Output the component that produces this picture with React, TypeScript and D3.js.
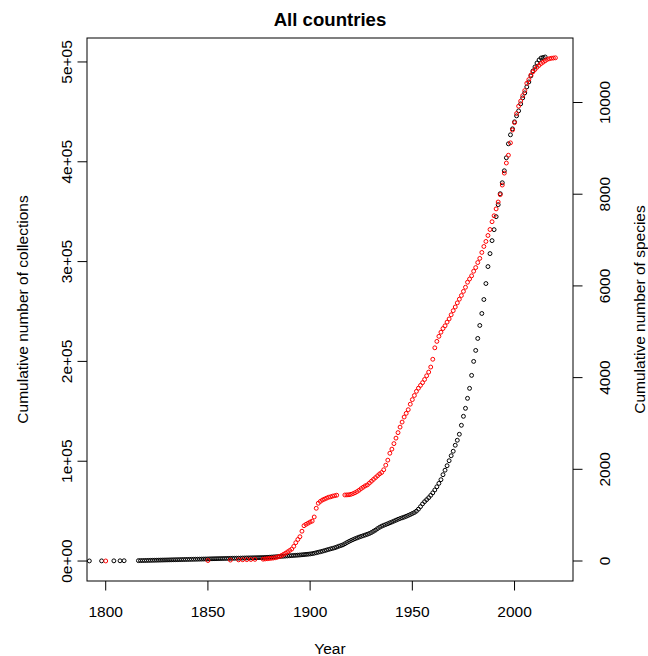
import React from "react";
import * as d3 from "d3";

// Cumulative number of collections (left axis), [year, value]
const collections: [number, number][] = [
  [1792, 100], [1798, 150], [1804, 200], [1807, 250], [1809, 300],
  [1816, 400], [1817, 450], [1818, 500], [1819, 550], [1820, 600],
  [1821, 650], [1822, 700], [1823, 750], [1824, 800], [1825, 850],
  [1826, 900], [1827, 950], [1828, 1000], [1829, 1050], [1830, 1100],
  [1831, 1150], [1832, 1200], [1833, 1250], [1834, 1300], [1835, 1350],
  [1836, 1400], [1837, 1450], [1838, 1500], [1839, 1550], [1840, 1600],
  [1841, 1650], [1842, 1700], [1843, 1750], [1844, 1800], [1845, 1850],
  [1846, 1900], [1847, 1950], [1848, 2000], [1849, 2050], [1850, 2100],
  [1851, 2200], [1852, 2250], [1853, 2300], [1854, 2350], [1855, 2400],
  [1856, 2450], [1857, 2500], [1858, 2550], [1859, 2600], [1860, 2650],
  [1861, 2700], [1862, 2750], [1863, 2800], [1864, 2850], [1865, 2900],
  [1866, 2950], [1867, 3000], [1868, 3050], [1869, 3100], [1870, 3150],
  [1871, 3200], [1872, 3250], [1873, 3300], [1874, 3350], [1875, 3400],
  [1876, 3450], [1877, 3500], [1878, 3600], [1879, 3700], [1880, 3800],
  [1881, 3950], [1882, 4100], [1883, 4250], [1884, 4400], [1885, 4550],
  [1886, 4700], [1887, 4850], [1888, 5000], [1889, 5150], [1890, 5300],
  [1891, 5450], [1892, 5600], [1893, 5750], [1894, 5900], [1895, 6050],
  [1896, 6250], [1897, 6450], [1898, 6650], [1899, 6850], [1900, 7100],
  [1901, 7400], [1902, 7800], [1903, 8300], [1904, 8800], [1905, 9300],
  [1906, 9800], [1907, 10400], [1908, 11000], [1909, 11600], [1910, 12200],
  [1911, 12700], [1912, 13300], [1913, 14000], [1914, 14800], [1915, 15500],
  [1916, 16200], [1917, 17300], [1918, 18500], [1919, 19600], [1920, 20600],
  [1921, 21500], [1922, 22400], [1923, 23200], [1924, 24000], [1925, 24700],
  [1926, 25400], [1927, 26100], [1928, 26800], [1929, 27600], [1930, 28600],
  [1931, 29800], [1932, 31000], [1933, 32500], [1934, 33800], [1935, 34900],
  [1936, 35800], [1937, 36600], [1938, 37400], [1939, 38300], [1940, 39100],
  [1941, 40000], [1942, 40900], [1943, 41800], [1944, 42600], [1945, 43300],
  [1946, 44000], [1947, 44800], [1948, 45700], [1949, 46600], [1950, 47600],
  [1951, 48600], [1952, 50000], [1953, 52000], [1954, 54500], [1955, 57200],
  [1956, 59500], [1957, 61500], [1958, 63500], [1959, 65800], [1960, 68300],
  [1961, 71200], [1962, 74400], [1963, 77800], [1964, 81500], [1965, 86500],
  [1966, 91000], [1967, 95500], [1968, 100500], [1969, 105500], [1970, 110000],
  [1971, 116000], [1972, 121000], [1973, 127000], [1974, 136000], [1975, 145000],
  [1976, 153000], [1977, 163000], [1978, 173000], [1979, 186000], [1980, 200000],
  [1981, 211000], [1982, 223000], [1983, 236000], [1984, 248000], [1985, 262000],
  [1986, 278000], [1987, 295000], [1988, 308000], [1989, 321000], [1990, 332000],
  [1991, 345000], [1992, 357000], [1993, 368000], [1994, 379000], [1995, 391000],
  [1996, 404000], [1997, 418000], [1998, 427000], [1999, 433000], [2000, 440000],
  [2001, 446000], [2002, 451000], [2003, 458000], [2004, 464000], [2005, 469000],
  [2006, 475000], [2007, 480000], [2008, 486000], [2009, 491000], [2010, 495000],
  [2011, 499000], [2012, 502000], [2013, 504000], [2014, 504500], [2015, 505000],
];

// Cumulative number of species (right axis), [year, value]
const species: [number, number][] = [
  [1800, 1], [1850, 10], [1861, 20], [1865, 25], [1867, 28], [1869, 30],
  [1871, 33], [1873, 36],
  [1877, 40], [1878, 45], [1879, 50], [1880, 55], [1881, 60], [1882, 65],
  [1883, 72], [1884, 85], [1885, 100], [1886, 120], [1887, 145], [1888, 170],
  [1889, 200], [1890, 230], [1891, 260], [1892, 320], [1893, 400], [1894, 470],
  [1895, 530], [1896, 650], [1897, 770], [1898, 800], [1899, 825], [1900, 850],
  [1901, 870], [1902, 960], [1903, 1150], [1904, 1260], [1905, 1300],
  [1906, 1330], [1907, 1350], [1908, 1370], [1909, 1390], [1910, 1400],
  [1911, 1415], [1912, 1425], [1913, 1435],
  [1917, 1440], [1918, 1442], [1919, 1445], [1920, 1455], [1921, 1470],
  [1922, 1490], [1923, 1515], [1924, 1545], [1925, 1580], [1926, 1610],
  [1927, 1640], [1928, 1660], [1929, 1700], [1930, 1740], [1931, 1780],
  [1932, 1820], [1933, 1860], [1934, 1900], [1935, 1930], [1936, 1990],
  [1937, 2090], [1938, 2200], [1939, 2350], [1940, 2440], [1941, 2560],
  [1942, 2680], [1943, 2800], [1944, 2920], [1945, 3030], [1946, 3140],
  [1947, 3220], [1948, 3300], [1949, 3420], [1950, 3520], [1951, 3610],
  [1952, 3700], [1953, 3770], [1954, 3830], [1955, 3890], [1956, 3960],
  [1957, 4040], [1958, 4120], [1959, 4230], [1960, 4400], [1961, 4650],
  [1962, 4790], [1963, 4900], [1964, 4990], [1965, 5070], [1966, 5130],
  [1967, 5210], [1968, 5280], [1969, 5370], [1970, 5460], [1971, 5540],
  [1972, 5630], [1973, 5710], [1974, 5790], [1975, 5880], [1976, 5970],
  [1977, 6080], [1978, 6150], [1979, 6220], [1980, 6320], [1981, 6400],
  [1982, 6510], [1983, 6600], [1984, 6730], [1985, 6860], [1986, 6970],
  [1987, 7100], [1988, 7230], [1989, 7400], [1990, 7530], [1991, 7680],
  [1992, 7830], [1993, 7990], [1994, 8200], [1995, 8460], [1996, 8680],
  [1997, 8850], [1998, 9120], [1999, 9400], [2000, 9560], [2001, 9760],
  [2002, 9920], [2003, 10030], [2004, 10150], [2005, 10260], [2006, 10420],
  [2007, 10500], [2008, 10600], [2009, 10670], [2010, 10720], [2011, 10770],
  [2012, 10810], [2013, 10850], [2014, 10880], [2015, 10910], [2016, 10940],
  [2017, 10955], [2018, 10965], [2019, 10970], [2020, 10975],
];

const xTicks = [1800, 1850, 1900, 1950, 2000];
const leftTicks = [0, 100000, 200000, 300000, 400000, 500000];
const leftTickLabels = ["0e+00", "1e+05", "2e+05", "3e+05", "4e+05", "5e+05"];
const rightTicks = [0, 2000, 4000, 6000, 8000, 10000];

const TITLE = "All countries";
const X_LABEL = "Year";
const LEFT_LABEL = "Cumulative number of collections";
const RIGHT_LABEL = "Cumulative number of species";

export default function App() {
  const W = 648;
  const H = 656;
  const box = { left: 87, right: 573, top: 38, bottom: 581 };
  const font = "'Liberation Sans', Arial, Helvetica, sans-serif";
  const fs = 15.5;
  const tick = 9.5;

  const x = d3.scaleLinear().domain([1790.85, 2028.6]).range([box.left, box.right]);
  const yL = d3.scaleLinear().domain([-20000, 524000]).range([box.bottom, box.top]);
  const yR = d3.scaleLinear().domain([-436, 11407]).range([box.bottom, box.top]);

  const cx = (box.left + box.right) / 2;
  const cy = (box.top + box.bottom) / 2;
  const r = 1.95;

  return (
    <svg
      width={W}
      height={H}
      viewBox={`0 0 ${W} ${H}`}
      style={{ position: "absolute", left: 0, top: 0, background: "#fff" }}
    >
      <rect x={0} y={0} width={W} height={H} fill="#fff" />
      {/* points */}
      <g fill="none" stroke="#000" strokeWidth={1}>
        {collections.map(([yr, v], i) => (
          <circle key={"c" + i} cx={x(yr)} cy={yL(v)} r={r} />
        ))}
      </g>
      <g fill="none" stroke="#ff0000" strokeWidth={1}>
        {species.map(([yr, v], i) => (
          <circle key={"s" + i} cx={x(yr)} cy={yR(v)} r={r} />
        ))}
      </g>
      {/* box */}
      <rect
        x={box.left}
        y={box.top}
        width={box.right - box.left}
        height={box.bottom - box.top}
        fill="none"
        stroke="#000"
        strokeWidth={1}
      />
      {/* ticks */}
      <g stroke="#000" strokeWidth={1}>
        {xTicks.map((t) => (
          <line key={t} x1={x(t)} x2={x(t)} y1={box.bottom} y2={box.bottom + tick} />
        ))}
        {leftTicks.map((t) => (
          <line key={t} x1={box.left - tick} x2={box.left} y1={yL(t)} y2={yL(t)} />
        ))}
        {rightTicks.map((t) => (
          <line key={t} x1={box.right} x2={box.right + tick} y1={yR(t)} y2={yR(t)} />
        ))}
      </g>
      <g fontFamily={font} fontSize={fs} fill="#000">
        {xTicks.map((t) => (
          <text key={t} x={x(t)} y={617} textAnchor="middle">
            {t}
          </text>
        ))}
        {leftTicks.map((t, i) => (
          <text
            key={t}
            transform={`translate(71.5, ${yL(t)}) rotate(-90)`}
            textAnchor="middle"
          >
            {leftTickLabels[i]}
          </text>
        ))}
        {rightTicks.map((t) => (
          <text
            key={t}
            transform={`translate(610, ${yR(t)}) rotate(-90)`}
            textAnchor="middle"
          >
            {t}
          </text>
        ))}
        <text x={cx} y={654} textAnchor="middle">
          {X_LABEL}
        </text>
        <text transform={`translate(28, ${cy}) rotate(-90)`} textAnchor="middle">
          {LEFT_LABEL}
        </text>
        <text transform={`translate(644.5, ${cy}) rotate(-90)`} textAnchor="middle">
          {RIGHT_LABEL}
        </text>
        <text x={cx} y={26} textAnchor="middle" fontWeight="bold" fontSize={fs * 1.2}>
          {TITLE}
        </text>
      </g>
    </svg>
  );
}
